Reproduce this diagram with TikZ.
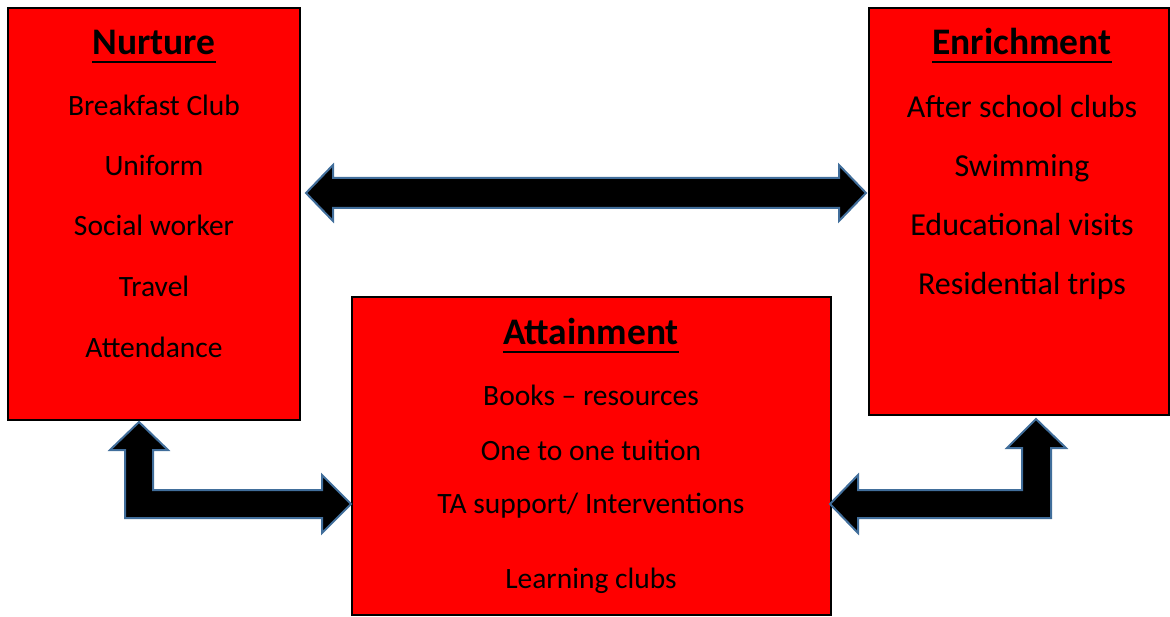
\documentclass[tikz,border=0pt]{standalone}
\usepackage{fontspec}
\setmainfont{Carlito}
\definecolor{boxred}{RGB}{255, 0, 0}
\definecolor{arrowedge}{RGB}{65, 110, 155}
\usetikzlibrary{calc}
\tikzset{
    redbox/.style={rectangle, draw=black, line width=1.5pt, fill=boxred, inner sep=0pt},
    headtxt/.style={font=\fontsize{37.5}{40}\selectfont\bfseries, anchor=base, inner sep=0pt},
    itemtxt/.style={font=\fontsize{29.5}{32}\selectfont, anchor=base, inner sep=0pt},
    bigitemtxt/.style={itemtxt, font=\fontsize{32}{34}\selectfont},
    blockarrow/.style={fill=black, draw=arrowedge, line width=2pt, line join=miter},
    uline/.style={line width=2.8pt},
}

\begin{document}
\begin{tikzpicture}[x=1pt, y=-1pt]
    \useasboundingbox (0,0) rectangle (1170,617);
    % boxes
    \node[redbox, minimum width=292, minimum height=412] (nurture) at (154,214) {};
    \node[redbox, minimum width=300, minimum height=407] (enrich) at (1019,211.5) {};
    \node[redbox, minimum width=479, minimum height=318] (attain) at (591.5,456) {};
    % Nurture
    \node[headtxt] (nurhead) at (154,55) {Nurture};
    \draw[uline] ([yshift=-7]nurhead.base west) -- ([yshift=-7]nurhead.base east);
    \node[itemtxt] (nur1) at (154,116) {Breakfast Club};
    \node[itemtxt] (nur2) at (154,176) {Uniform};
    \node[itemtxt] (nur3) at (154,236) {Social worker};
    \node[itemtxt] (nur4) at (154,297) {Travel};
    \node[itemtxt] (nur5) at (154,358) {Attendance};
    % Enrichment
    \node[headtxt] (enrhead) at (1022,55) {Enrichment};
    \draw[uline] ([yshift=-7]enrhead.base west) -- ([yshift=-7]enrhead.base east);
    \node[bigitemtxt] (enr1) at (1022,118) {After school clubs};
    \node[bigitemtxt] (enr2) at (1022,177) {Swimming};
    \node[bigitemtxt] (enr3) at (1022,236) {Educational visits};
    \node[bigitemtxt] (enr4) at (1022,295) {Residential trips};
    % Attainment
    \node[headtxt] (atthead) at (591,345) {Attainment};
    \draw[uline] ([yshift=-7]atthead.base west) -- ([yshift=-7]atthead.base east);
    \node[itemtxt] (att1) at (591,406) {Books -- resources};
    \node[itemtxt] (att2) at (591,460) {One to one tuition};
    \node[itemtxt] (att3) at (591,513) {TA support/ Interventions};
    \node[itemtxt] (att4) at (591,588) {Learning clubs};
    % arrows
    \coordinate (midl) at (306,193);
    \coordinate (midr) at (866,193);
    \draw[blockarrow] (midl) -- ++(27,-28) -- ++(0,13) -| ($(midr)+(-27,-15)$) -- ++(0,-13)
        -- (midr) -- ++(-27,28) -- ++(0,-13) -| ($(midl)+(27,15)$) -- ++(0,13) -- cycle;
    \coordinate (nurup) at (139,422);
    \coordinate (attin) at (351,504);
    \draw[blockarrow] (nurup) -- ++(29,28) -- ++(-15,0) |- ($(attin)+(-29,-14)$) -- ++(0,-15)
        -- (attin) -- ++(-29,29) -- ++(0,-15) -| ($(nurup)+(-14,28)$) -- ++(-15,0) -- cycle;
    \coordinate (enrup) at (1036,419);
    \coordinate (attout) at (830,504);
    \draw[blockarrow] (enrup) -- ++(30,29) -- ++(-15,0) |- ($(attout)+(28,14)$) -- ++(0,15)
        -- (attout) -- ++(28,-29) -- ++(0,15) -| ($(enrup)+(-14,29)$) -- ++(-15,0) -- cycle;
\end{tikzpicture}
\end{document}
